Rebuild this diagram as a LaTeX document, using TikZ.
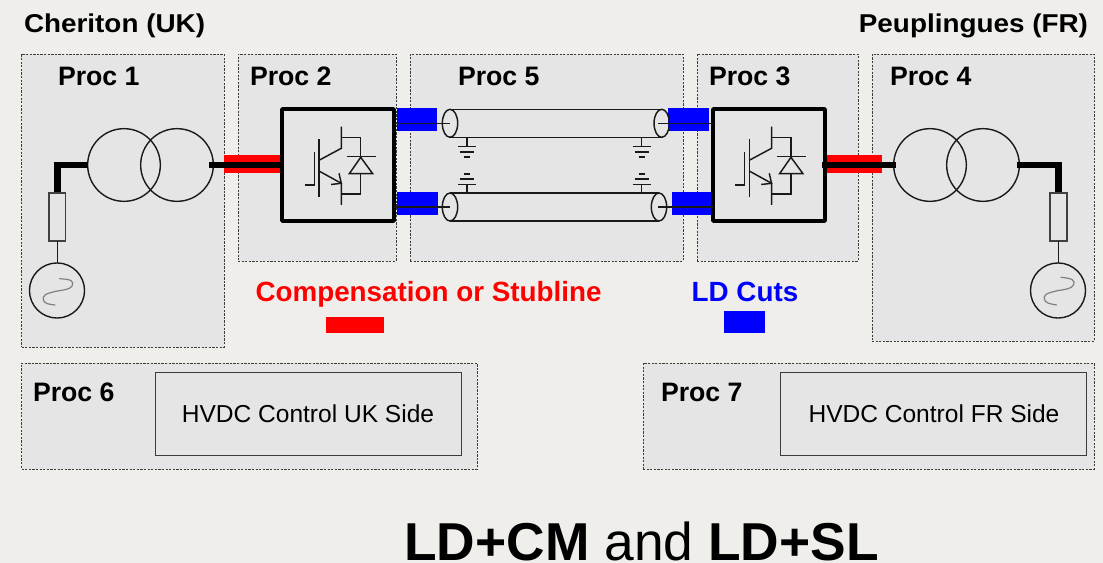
\documentclass[tikz,border=0pt]{standalone}
\usepackage{fontspec}
\setmainfont{Liberation Sans}
\newfontface\widebold[FakeStretch=1.08]{Liberation Sans Bold}
\usetikzlibrary{shapes.geometric,calc}
\definecolor{pagebg}{HTML}{EFEEEA}
\definecolor{boxbg}{HTML}{E5E5E5}
\definecolor{dashc}{HTML}{3C3C3C}
\newcommand{\bx}[6]{%
  \pgfmathsetlengthmacro{\bw}{(#4-#2)*0.75pt}%
  \pgfmathsetlengthmacro{\bh}{(#5-#3)*0.75pt}%
  \node[rectangle,inner sep=0pt,outer sep=0pt,minimum width=\bw,minimum height=\bh,#6] (#1) at ({(#2+#4)/2},{(#3+#5)/2}) {};}
\newcommand{\igbtsym}{%
  \draw[sym] (305,185)--(314.3,185)--(314.3,151.7);
  \draw[sym] (319,139.3)--(319,196.7);
  \draw[sym] (341.3,126.7)--(341.3,148.3)--(319,160.3);
  \draw[sym] (319,171)--(341.3,183.3)--(341.3,205);
  \draw[sym] (339,173.3)--(341.3,183.3)--(331,184.5);
  \draw[sym] (341.3,137.7)--(360.7,137.7)--(360.7,156.7);
  \draw[sym] (346.7,156.7)--(375.7,156.7);
  \draw[sym] (360.7,157.3)--(349.3,173.7)--(372.7,173.7)--cycle;
  \draw[sym] (360.7,173.7)--(360.7,194)--(341.3,194);}
\tikzset{
  x=0.75pt,y=-0.75pt,
  proc/.style={draw=dashc,fill=boxbg,line width=0.7pt,dash pattern=on 1.7pt off 1pt},
  inner/.style={draw=dashc,fill=boxbg,line width=0.7pt},
  conv/.style={draw=black,fill=boxbg,line width=2.9pt,rounded corners=0.6pt},
  sym/.style={draw=black!90,line width=1.1pt},
  wire/.style={draw=black!90,line width=1.1pt},
  power/.style={draw=black,line width=5pt},
  wind/.style={circle,draw=black!90,line width=1.05pt,inner sep=0pt,outer sep=0pt,minimum size=54.5pt},
  gen/.style={circle,draw=black!90,line width=1.05pt,inner sep=0pt,outer sep=0pt,minimum size=41.3pt},
  res/.style={draw=black!75,line width=1.1pt,fill=boxbg},
  redcut/.style={fill=red,draw=none},
  bluecut/.style={fill=blue,draw=none},
  cabend/.style={ellipse,draw=black!90,line width=1.1pt,inner sep=0pt,outer sep=0pt,minimum width=11.5pt,minimum height=21pt},
  lab/.style={inner sep=0pt,outer sep=0pt,font=\fontsize{20}{24}\selectfont\bfseries,anchor=base west},
  site/.style={inner sep=0pt,outer sep=0pt,font=\fontsize{19.35}{24}\selectfont\widebold},
  legendtext/.style={inner sep=0pt,outer sep=0pt,anchor=base,font=\fontsize{20.85}{24}\selectfont\bfseries},
  ctl/.style={inner sep=0pt,outer sep=0pt,font=\fontsize{18.4}{22}\selectfont},
  wave/.style={draw=black!50,line width=0.9pt},
}
\begin{document}
\begin{tikzpicture}
\useasboundingbox (0,0) rectangle (1103,563);
\fill[pagebg] (0,0) rectangle (1103,563);
% process boxes
\bx{p1}{21.5}{54}{224}{347}{proc}
\bx{p2}{238}{54}{396}{261}{proc}
\bx{p5}{410}{54}{683}{261}{proc}
\bx{p3}{697}{54}{858}{261}{proc}
\bx{p4}{872}{54}{1094}{341}{proc}
\bx{p6}{21.5}{363}{477}{469}{proc}
\bx{p7}{643}{363}{1094}{469}{proc}
\bx{c6}{155}{372}{461}{455}{inner}
\bx{c7}{780}{372}{1086}{455}{inner}
\node[ctl] (c6t) at (308,414) {HVDC Control UK Side};
\node[ctl] (c7t) at (934,414) {HVDC Control FR Side};
% headings
\node[site,anchor=base west] (site1) at (24,33) {Cheriton (UK)};
\node[site,anchor=base east] (site2) at (1088,33) {Peuplingues (FR)};
\node[lab] (l1) at (58,86) {Proc 1};
\node[lab] (l2) at (250,86) {Proc 2};
\node[lab] (l5) at (458,86) {Proc 5};
\node[lab] (l3) at (709,86) {Proc 3};
\node[lab] (l4) at (890,86) {Proc 4};
\node[lab] (l6) at (33,401) {Proc 6};
\node[lab] (l7) at (661,401) {Proc 7};
% red / blue cuts
\bx{rl}{224}{155}{281}{173}{redcut}
\bx{rr}{827}{155}{882}{173}{redcut}
\bx{blt}{397}{108.5}{437}{131}{bluecut}
\bx{blb}{397}{192}{438}{215}{bluecut}
\bx{brt}{668}{108}{709}{131}{bluecut}
\bx{brb}{672}{192}{712}{215}{bluecut}
% converters
\bx{cl}{282}{109}{394}{221}{conv}
\bx{cr}{713}{109}{825}{221}{conv}
\igbtsym
\begin{scope}[xshift=322.7pt]\igbtsym\end{scope}
% transformers
\node[wind] (tl1) at (124,165) {};
\node[wind] (tl2) at (177,165) {};
\node[wind] (tr1) at (930,165) {};
\node[wind] (tr2) at (983,165) {};
% sources
\bx{rsl}{49}{193}{65.5}{241}{res}
\bx{rsr}{1050}{193}{1067}{241}{res}
\node[gen] (gl) at (57,290.5) {};
\node[gen] (gr) at (1058,290.5) {};
\draw[wire] (rsl.south) -- (rsl.south |- gl.north);
\draw[wire] (rsr.south) -- (rsr.south |- gr.north);
\draw[wave] plot[smooth,tension=0.7] coordinates {(59.3,278.7)(71,280.5)(72,286)(66,289.5)(55,291.5)(45,295)(43.5,300)(47,303.5)(55.3,305)};
\draw[wave] plot[smooth,tension=0.7] coordinates {(1060.7,277.3)(1072,279.5)(1073.5,285)(1067,289)(1056,291)(1046,294.5)(1044.5,299.5)(1048,303)(1056.7,305)};
% power connections
\draw[power,line join=miter] ([yshift=0.75pt]rsl.north) |- (tl1.west);
\draw[power] ([xshift=-3pt]tl2.east) -- (cl.west |- tl2.east);
\draw[power] ([xshift=-2pt]cr.east |- tr1.west) -- ([xshift=2pt]tr1.west);
\draw[power,line join=miter] ([xshift=-2pt]tr2.east) -| ([yshift=0.75pt]rsr.north);
% cables
\node[cabend] (e1) at (450,123.3) {};
\node[cabend] (e2) at (661.7,123.3) {};
\node[cabend] (e3) at (450,207) {};
\node[cabend] (e4) at (659,207) {};
\draw[wire] (e1.north) -- (e2.north);
\draw[wire] (e1.south) -- (e2.south);
\draw[wire] (e3.north) -- (e4.north);
\draw[wire] (e3.south) -- (e4.south);
\draw[wire] (cl.east |- e1) -- (e1.center);
\draw[wire] (cl.east |- e3) -- (e3.center);
\draw[wire] (e2.center) ++(-3.5,0) -- (cr.west |- e2);
\draw[wire] (e4.center) ++(-1,0) -- (cr.west |- e4);
% earth symbols
\foreach \gx/\ea/\eb in {467/e1/e3,641.7/e2/e4}{
  \coordinate (ga) at (\gx,146.5);
  \coordinate (gb) at (\gx,184.5);
  \draw[wire] (ga |- \ea.south) -- (ga);
  \draw[wire] (gb |- \eb.north) -- (gb);
  \draw[wire] (\gx-9,146.5) -- (\gx+9,146.5);
  \draw[wire] (\gx-7,152) -- (\gx+7,152);
  \draw[wire] (\gx-3,157) -- (\gx+3,157);
  \draw[wire] (\gx-9,184.5) -- (\gx+9,184.5);
  \draw[wire] (\gx-7,179) -- (\gx+7,179);
  \draw[wire] (\gx-3,174) -- (\gx+3,174);
}
% legend
\node[legendtext,text=red] (lgr) at (428.5,301) {Compensation or Stubline};
\node[legendtext,text=blue] (lgb) at (745,301) {LD Cuts};
\bx{kr}{326}{317}{384}{333}{redcut}
\bx{kb}{724}{311}{765}{333}{bluecut}
% title
\node[inner sep=0pt,anchor=base,font=\fontsize{40}{44}\selectfont] (title) at (641.5,560) {\textbf{LD+CM} and \textbf{LD+SL}};
\end{tikzpicture}
\end{document}
